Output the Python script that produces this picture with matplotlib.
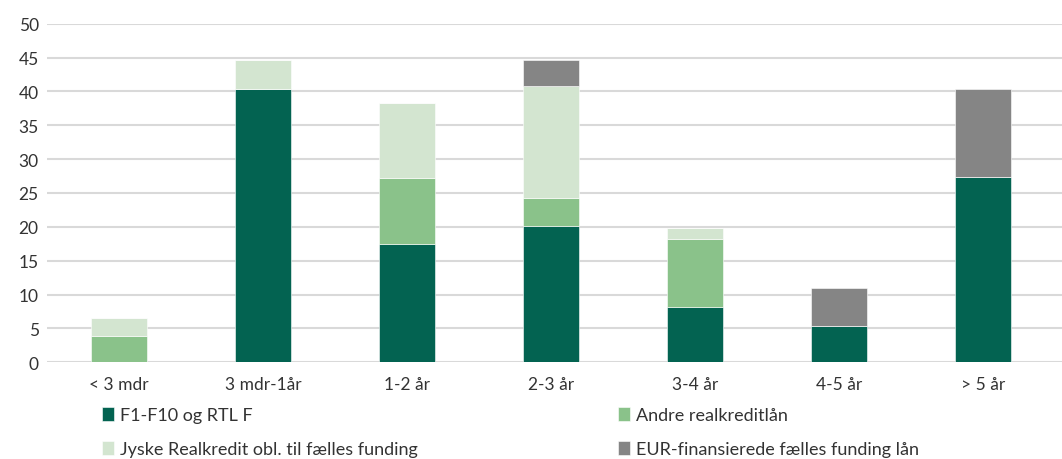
import matplotlib
matplotlib.use("Agg")
import matplotlib.pyplot as plt
import numpy as np

plt.rcParams['font.family'] = ['Lato', 'DejaVu Sans']

categories = ["< 3 mdr", "3 mdr-1år", "1-2 år", "2-3 år", "3-4 år", "4-5 år", "> 5 år"]
f1_f10 = [0.0, 40.4, 17.4, 20.1, 8.1, 5.4, 27.3]
andre = [3.9, 0.0, 9.8, 4.1, 10.1, 0.0, 0.0]
jyske = [2.6, 4.3, 11.1, 16.6, 1.6, 0.0, 0.0]
eur = [0.0, 0.0, 0.0, 3.8, 0.0, 5.5, 13.0]

series = [
    ("F1-F10 og RTL F", f1_f10, "#036351"),
    ("Andre realkreditlån", andre, "#8AC28A"),
    ("Jyske Realkredit obl. til fælles funding", jyske, "#D3E5D0"),
    ("EUR-finansierede fælles funding lån", eur, "#858585"),
]

fig = plt.figure(figsize=(10.62, 4.60), dpi=100)
ax = fig.add_axes([47/1062, 96.7/460, (1062-47)/1062, 338.6/460])

x = np.arange(len(categories))
bottom = np.zeros(len(categories))
handles = {}
for name, vals, col in series:
    vals = np.array(vals)
    b = ax.bar(x, vals, 0.39, bottom=bottom, color=col, label=name, zorder=3,
               edgecolor="white", linewidth=0.4)
    handles[name] = b
    bottom += vals

ax.set_ylim(0, 50)
# category step ~144 px, gridlines run a bit past the last slot
ax.set_xlim(-0.5, len(categories) - 0.5 + 7/144)
ax.set_yticks(range(0, 51, 5))
ax.set_xticks(x)
ax.set_xticklabels(categories)
ax.yaxis.grid(True, color="#D9D9D9", linewidth=1.5, zorder=0)
ax.set_axisbelow(True)
for s in ax.spines.values():
    s.set_visible(False)
ax.tick_params(axis="both", length=0, labelsize=12.5, colors="#333333")
ax.tick_params(axis="y", pad=6)
ax.tick_params(axis="x", pad=10)

order = ["F1-F10 og RTL F", "Jyske Realkredit obl. til fælles funding",
         "Andre realkreditlån", "EUR-finansierede fælles funding lån"]
leg = fig.legend([handles[n] for n in order], order, loc="upper left",
                 bbox_to_anchor=(102/1062, 52/460), ncol=2, frameon=False,
                 fontsize=13, handlelength=0.65, handleheight=0.8,
                 handletextpad=0.35, columnspacing=11.1, labelspacing=1.0,
                 borderaxespad=0, borderpad=0)
for t in leg.get_texts():
    t.set_color("#333333")

fig.savefig("out.png", dpi=100)
